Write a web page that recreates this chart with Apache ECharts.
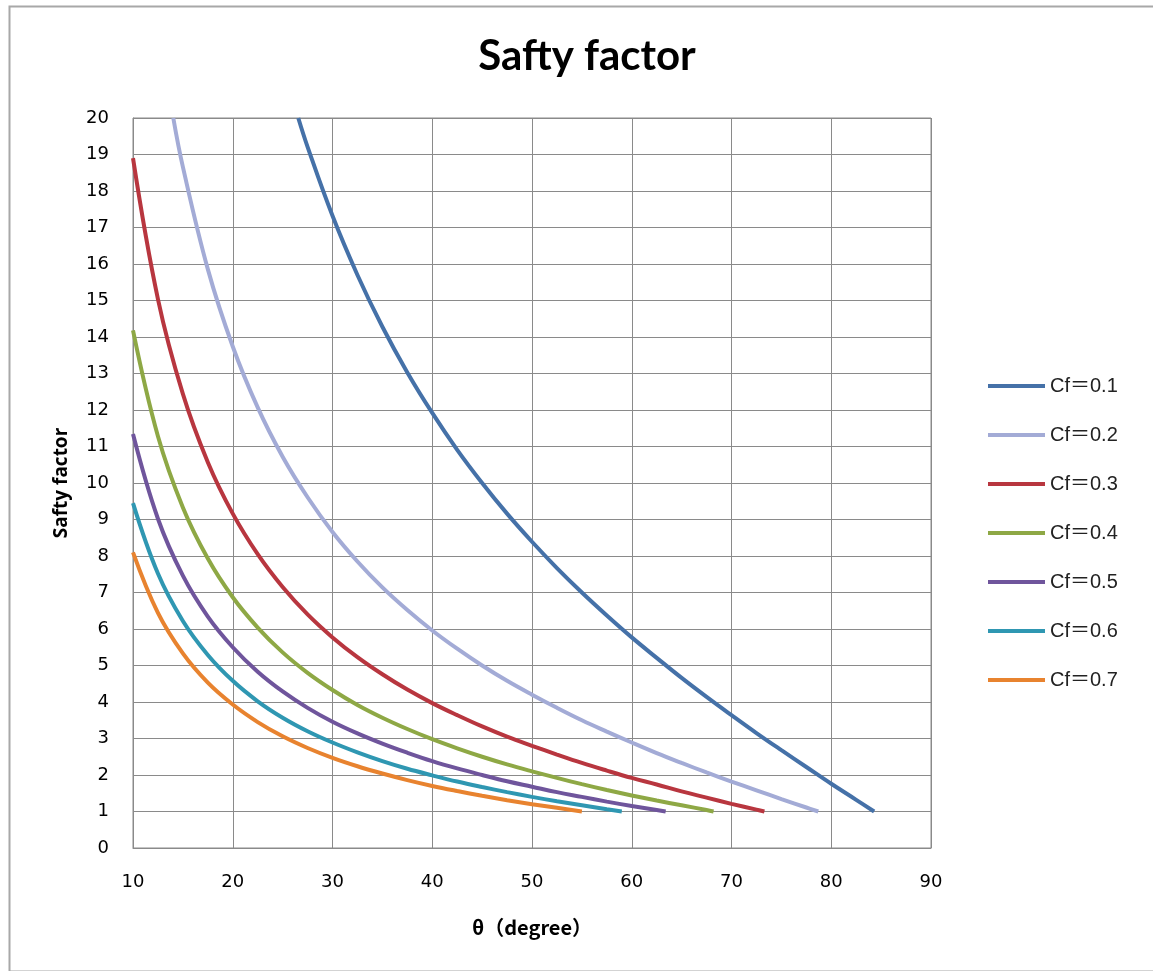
<!DOCTYPE html>
<html>
	<head>
		<meta charset="UTF-8">
		<title>Safty factor</title>
		<style>
			html, body { margin: 0; padding: 0; background: #fff; }
			#main { width: 1153px; height: 971px; }
		</style>
	</head>
	<body>
		<div id="main"></div>
		<script src="https://cdn.jsdelivr.net/npm/echarts@6/dist/echarts.min.js"></script>
		<script type="text/javascript">
			// 数据：横轴 θ(degree)，纵轴 Safty factor
			var xTicks = [10, 20, 30, 40, 50, 60, 70, 80, 90];
			var names = ['Cf＝0.1', 'Cf＝0.2', 'Cf＝0.3', 'Cf＝0.4', 'Cf＝0.5', 'Cf＝0.6', 'Cf＝0.7'];
			var colors = ['#4571a8', '#a3abd6', '#b8363f', '#8ea845', '#6f559c', '#2f97b2', '#e8832f'];

			var cf01 = [[26.57, 20], [27.5, 19.21], [30, 17.32], [32.5, 15.70], [35, 14.28], [37.5, 13.03], [40, 11.92], [42.5, 10.91], [45, 10.0], [47.5, 9.16], [50, 8.39], [52.5, 7.67], [55, 7.0], [57.5, 6.37], [60, 5.77], [62.5, 5.21], [65, 4.66], [67.5, 4.14], [70, 3.64], [72.5, 3.15], [75, 2.68], [77.5, 2.22], [80, 1.76], [82.5, 1.32], [84.3, 1.0]];
			var cf02 = [[14.04, 20], [15, 18.66], [17.5, 15.86], [20, 13.74], [22.5, 12.07], [25, 10.72], [27.5, 9.61], [30, 8.66], [32.5, 7.85], [35, 7.14], [37.5, 6.52], [40, 5.96], [42.5, 5.46], [45, 5.0], [47.5, 4.58], [50, 4.20], [52.5, 3.84], [55, 3.50], [57.5, 3.19], [60, 2.89], [62.5, 2.60], [65, 2.33], [67.5, 2.07], [70, 1.82], [72.5, 1.58], [75, 1.34], [77.5, 1.11], [78.7, 1.0]];
			var cf03 = [[10, 18.90], [12.5, 15.04], [15, 12.44], [17.5, 10.57], [20, 9.16], [22.5, 8.05], [25, 7.15], [27.5, 6.40], [30, 5.77], [32.5, 5.23], [35, 4.76], [37.5, 4.34], [40, 3.97], [42.5, 3.64], [45, 3.33], [47.5, 3.05], [50, 2.80], [52.5, 2.56], [55, 2.33], [57.5, 2.12], [60, 1.92], [62.5, 1.74], [65, 1.55], [67.5, 1.38], [70, 1.21], [72.5, 1.05], [73.3, 1.0]];
			var cf04 = [[10, 14.18], [12.5, 11.28], [15, 9.33], [17.5, 7.93], [20, 6.87], [22.5, 6.04], [25, 5.36], [27.5, 4.80], [30, 4.33], [32.5, 3.92], [35, 3.57], [37.5, 3.26], [40, 2.98], [42.5, 2.73], [45, 2.5], [47.5, 2.29], [50, 2.10], [52.5, 1.92], [55, 1.75], [57.5, 1.59], [60, 1.44], [62.5, 1.30], [65, 1.17], [67.5, 1.04], [68.2, 1.0]];
			var cf05 = [[10, 11.34], [12.5, 9.02], [15, 7.46], [17.5, 6.34], [20, 5.50], [22.5, 4.83], [25, 4.29], [27.5, 3.84], [30, 3.46], [32.5, 3.14], [35, 2.86], [37.5, 2.61], [40, 2.38], [42.5, 2.18], [45, 2.0], [47.5, 1.83], [50, 1.68], [52.5, 1.53], [55, 1.40], [57.5, 1.27], [60, 1.15], [62.5, 1.04], [63.4, 1.0]];
			var cf06 = [[10, 9.45], [12.5, 7.52], [15, 6.22], [17.5, 5.29], [20, 4.58], [22.5, 4.02], [25, 3.57], [27.5, 3.20], [30, 2.89], [32.5, 2.62], [35, 2.38], [37.5, 2.17], [40, 1.99], [42.5, 1.82], [45, 1.67], [47.5, 1.53], [50, 1.40], [52.5, 1.28], [55, 1.17], [57.5, 1.06], [59, 1.0]];
			var cf07 = [[10, 8.10], [12.5, 6.44], [15, 5.33], [17.5, 4.53], [20, 3.93], [22.5, 3.45], [25, 3.06], [27.5, 2.74], [30, 2.47], [32.5, 2.24], [35, 2.04], [37.5, 1.86], [40, 1.70], [42.5, 1.56], [45, 1.43], [47.5, 1.31], [50, 1.20], [52.5, 1.10], [55, 1.0]];
			var allData = [cf01, cf02, cf03, cf04, cf05, cf06, cf07];

			var myChart = echarts.init(document.getElementById('main'));

			var series = [];
			for (var i = 0; i < allData.length; i++) {
				series.push({
					name: names[i],
					type: 'line',
					data: allData[i],
					smooth: 0.4,
					showSymbol: false,
					symbol: 'none',
					lineStyle: { width: 4, color: colors[i] },
					itemStyle: { color: colors[i] }
				});
			}

			var gridColor = '#8a8a8a';

			var option = {
				backgroundColor: '#fff',
				animation: false,
				// 外框
				graphic: [{
					type: 'rect',
					left: 7,
					top: 4,
					shape: { width: 1160, height: 965 },
					style: { fill: 'none', stroke: '#a8a8a8', lineWidth: 2 },
					silent: true
				}],
				// 标题
				title: {
					text: 'Safty factor',
					left: 582,
					top: 30,
					textAlign: 'center',
					textStyle: {
						fontFamily: 'Lato',
						fontWeight: 'bold',
						fontSize: 42,
						color: '#000'
					}
				},
				// 图例
				legend: {
					orient: 'vertical',
					left: 983,
					top: 371,
					itemWidth: 57,
					itemHeight: 4,
					itemGap: 29,
					icon: 'rect',
					data: names,
					textStyle: {
						fontFamily: 'Liberation Sans, Noto Sans CJK SC',
						fontSize: 20,
						lineHeight: 20,
						color: '#222'
					}
				},
				grid: {
					left: 133,
					top: 118,
					width: 798,
					height: 730,
					show: true,
					borderColor: gridColor,
					borderWidth: 1
				},
				xAxis: {
					type: 'value',
					min: 10,
					max: 90,
					interval: 10,
					name: 'θ（degree）',
					nameLocation: 'middle',
					nameGap: 69,
					nameTextStyle: {
						fontFamily: 'Noto Sans CJK SC',
						fontWeight: 'bold',
						fontSize: 20,
						color: '#000'
					},
					axisLine: { lineStyle: { color: gridColor } },
					axisTick: { show: false },
					axisLabel: {
						margin: 25,
						fontFamily: 'DejaVu Sans',
						fontSize: 18,
						color: '#000'
					},
					splitLine: { lineStyle: { color: gridColor, width: 1 } }
				},
				yAxis: {
					type: 'value',
					min: 0,
					max: 20,
					interval: 1,
					name: 'Safty factor',
					nameLocation: 'middle',
					nameGap: 62,
					nameRotate: 90,
					nameTextStyle: {
						fontFamily: 'Open Sans',
						fontWeight: 'bold',
						fontSize: 19,
						color: '#000'
					},
					axisLine: { show: true, lineStyle: { color: gridColor } },
					axisTick: { show: false },
					axisLabel: {
						margin: 24,
						fontFamily: 'DejaVu Sans',
						fontSize: 18,
						color: '#000'
					},
					splitLine: { lineStyle: { color: gridColor, width: 1 } }
				},
				series: series
			};

			myChart.setOption(option);
		</script>
	</body>
</html>
